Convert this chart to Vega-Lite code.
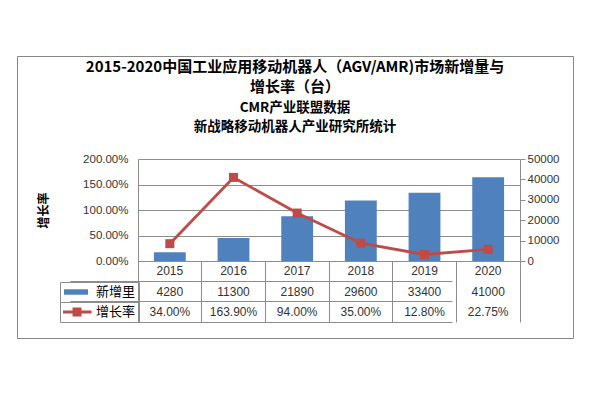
{
  "$schema": "https://vega.github.io/schema/vega-lite/v6.json",
  "width": 556,
  "height": 282,
  "autosize": "none",
  "padding": {"left": 17, "top": 56, "right": 17, "bottom": 57},
  "background": "white",
  "title": {
    "text": ["2015-2020中国工业应用移动机器人（AGV/AMR)市场新增量与", "增长率（台）"],
    "subtitle": ["CMR产业联盟数据", "新战略移动机器人产业研究所统计"],
    "anchor": "middle",
    "frame": "group",
    "font": "Noto Sans CJK SC",
    "fontSize": 15,
    "fontWeight": "bold",
    "color": "#000000",
    "lineHeight": 20,
    "subtitleFont": "Noto Sans CJK SC",
    "subtitleFontSize": 13.5,
    "subtitleFontWeight": "bold",
    "subtitleColor": "#000000",
    "subtitleLineHeight": 19,
    "subtitlePadding": 6,
    "dy": 81
  },
  "data": {
    "values": [
      {"year": "2015", "count": 4280, "rate": 0.34},
      {"year": "2016", "count": 11300, "rate": 1.639},
      {"year": "2017", "count": 21890, "rate": 0.94},
      {"year": "2018", "count": 29600, "rate": 0.35},
      {"year": "2019", "count": 33400, "rate": 0.128},
      {"year": "2020", "count": 41000, "rate": 0.2275}
    ]
  },
  "encoding": {
    "x": {
      "field": "year",
      "type": "ordinal",
      "scale": {"type": "band", "range": [121, 503], "paddingInner": 0, "paddingOuter": 0},
      "axis": {
        "orient": "bottom",
        "offset": -77,
        "bandPosition": 0,
        "labels": false,
        "ticks": true,
        "tickSize": 61,
        "tickColor": "#8c8c8c",
        "domain": true,
        "domainColor": "#8c8c8c",
        "grid": false,
        "title": null
      }
    }
  },
  "layer": [
    {
      "mark": {"type": "bar", "width": {"band": 0.5}},
      "encoding": {
        "y": {
          "field": "count",
          "type": "quantitative",
          "scale": {"domain": [0, 50000], "range": [205, 103], "nice": false},
          "axis": {
            "orient": "right",
            "offset": -53,
            "values": [0, 10000, 20000, 30000, 40000, 50000],
            "format": "d",
            "grid": false,
            "domainColor": "#8c8c8c",
            "tickColor": "#8c8c8c",
            "tickSize": 5,
            "labelPadding": 2,
            "labelFont": "Liberation Sans",
            "labelFontSize": 11.5,
            "labelColor": "#333333",
            "title": null
          }
        },
        "fill": {
          "datum": "新增里",
          "scale": {"domain": ["新增里"], "range": ["#4F81BD"]},
          "legend": {
            "orient": "none",
            "legendX": 43,
            "legendY": 226,
            "title": null,
            "strokeColor": "#8c8c8c",
            "padding": 3,
            "symbolType": "M-0.923,-0.21H0.923V0.21H-0.923Z",
            "symbolSize": 676,
            "symbolStrokeWidth": 0,
            "clipHeight": 14,
            "labelOffset": 7,
            "labelFont": "Noto Sans CJK SC",
            "labelFontSize": 13,
            "labelColor": "#000000"
          }
        }
      }
    },
    {
      "mark": {
        "type": "line",
        "strokeWidth": 2.8,
        "point": {"shape": "square", "size": 81, "filled": true, "fill": "#BE4B48", "strokeWidth": 0}
      },
      "encoding": {
        "y": {
          "field": "rate",
          "type": "quantitative",
          "scale": {"domain": [0, 2], "range": [205, 103], "nice": false},
          "axis": {
            "orient": "left",
            "offset": -121,
            "values": [0, 0.5, 1, 1.5, 2],
            "format": ".2%",
            "grid": true,
            "gridColor": "#8c8c8c",
            "domainColor": "#8c8c8c",
            "ticks": false,
            "labelPadding": 10,
            "labelFont": "Liberation Sans",
            "labelFontSize": 11.5,
            "labelColor": "#333333",
            "title": "增长率",
            "titleFont": "Noto Sans CJK SC",
            "titleFontSize": 12,
            "titleFontWeight": "bold",
            "titleColor": "#000000",
            "titlePadding": 32
          }
        },
        "stroke": {
          "datum": "增长率",
          "scale": {"domain": ["增长率"], "range": ["#BE4B48"]},
          "legend": {
            "orient": "none",
            "legendX": 43,
            "legendY": 246,
            "title": null,
            "strokeColor": "#8c8c8c",
            "padding": 3,
            "symbolType": "M-1.04,-0.11H1.04V0.11H-1.04Z M-0.32,-0.32H0.32V0.32H-0.32Z",
            "symbolSize": 784,
            "symbolFillColor": "#BE4B48",
            "symbolStrokeWidth": 0,
            "clipHeight": 14,
            "labelOffset": 5,
            "labelFont": "Noto Sans CJK SC",
            "labelFontSize": 13,
            "labelColor": "#000000"
          }
        }
      }
    },
    {
      "mark": {"type": "text", "font": "Liberation Sans", "fontSize": 12, "color": "#333333"},
      "encoding": {
        "y": {
          "datum": "年份",
          "type": "nominal",
          "scale": {"type": "band", "domain": ["年份", "新增里", "增长率"], "range": [205, 266], "paddingInner": 0, "paddingOuter": 0},
          "axis": {
            "orient": "right",
            "offset": -53,
            "labels": false,
            "ticks": false,
            "domain": true,
            "domainColor": "#8c8c8c",
            "grid": true,
            "gridColor": "#8c8c8c",
            "bandPosition": 1,
            "title": null
          }
        },
        "text": {"field": "year", "type": "nominal"}
      }
    },
    {
      "mark": {"type": "text", "font": "Liberation Sans", "fontSize": 12, "color": "#333333"},
      "encoding": {
        "y": {
          "datum": "新增里",
          "type": "nominal",
          "scale": {"type": "band", "domain": ["年份", "新增里", "增长率"], "range": [205, 266], "paddingInner": 0, "paddingOuter": 0},
          "axis": null
        },
        "text": {"field": "count", "type": "quantitative", "format": "d"}
      }
    },
    {
      "mark": {"type": "text", "font": "Liberation Sans", "fontSize": 12, "color": "#333333"},
      "encoding": {
        "y": {
          "datum": "增长率",
          "type": "nominal",
          "scale": {"type": "band", "domain": ["年份", "新增里", "增长率"], "range": [205, 266], "paddingInner": 0, "paddingOuter": 0},
          "axis": null
        },
        "text": {"field": "rate", "type": "quantitative", "format": ".2%"}
      }
    }
  ],
  "resolve": {"scale": {"y": "independent"}, "axis": {"y": "independent"}},
  "config": {
    "view": {"stroke": "#868686", "strokeWidth": 1}
  }
}
